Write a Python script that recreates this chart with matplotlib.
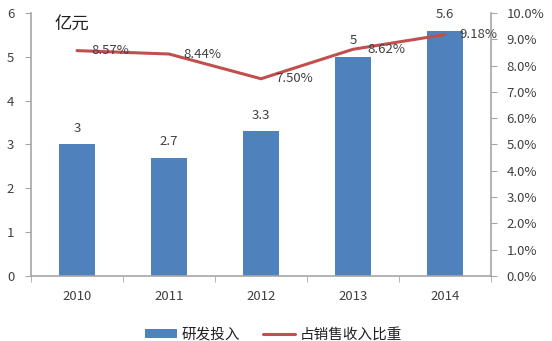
import matplotlib
matplotlib.use("Agg")
import matplotlib.pyplot as plt
import numpy as np

plt.rcParams['font.family'] = ['Noto Sans CJK SC', 'DejaVu Sans']

years = ["2010", "2011", "2012", "2013", "2014"]
rd_spend = [3, 2.7, 3.3, 5, 5.6]          # 亿元
rd_ratio = [8.57, 8.44, 7.50, 8.62, 9.18]  # %

bar_color = "#4F81BD"
line_color = "#C0504D"
axis_color = "#A6A6A6"
text_color = "#404040"

fig = plt.figure(figsize=(5.52, 3.41), dpi=100)
ax = fig.add_axes([0.0562, 0.1906, 0.8333, 0.7713])
ax2 = ax.twinx()

x = np.arange(len(years))
bars = ax.bar(x, rd_spend, width=0.4, color=bar_color, label="研发投入", zorder=2)
line, = ax2.plot(x, rd_ratio, color=line_color, lw=2.2, label="占销售收入比重",
                 solid_capstyle="round", zorder=3)

# bar value labels
for xi, v in zip(x, rd_spend):
    ax.annotate(f"{v:g}", (xi, v), xytext=(0, 7), textcoords="offset points",
                ha="center", va="bottom", fontsize=9.5, color=text_color)

# ratio labels, to the right of each point
for xi, v in zip(x, rd_ratio):
    ax2.annotate(f"{v:.2f}%", (xi, v), xytext=(10, 0), textcoords="offset points",
                 ha="left", va="center", fontsize=9.5, color=text_color, zorder=4)

ax.set_xlim(-0.5, len(years) - 0.5)
ax.set_ylim(0, 6)
ax2.set_ylim(0, 10)
ax.set_yticks(range(0, 7))
ax2.set_yticks(range(0, 11))
ax2.set_yticklabels([f"{v:.1f}%" for v in range(0, 11)])

ax.set_xticks(x)
ax.set_xticklabels(years)
ax.set_xticks(np.arange(-0.5, len(years)), minor=True)
ax.tick_params(axis="x", which="major", length=0, pad=10)
ax.tick_params(axis="x", which="minor", length=4, color=axis_color)
ax.tick_params(axis="y", length=4, color=axis_color, pad=8)
ax2.tick_params(axis="y", length=4, color=axis_color, pad=7)
for a in (ax, ax2):
    a.tick_params(labelsize=9.5, labelcolor=text_color)
    for s in a.spines.values():
        s.set_visible(False)
ax.spines["left"].set_visible(True)
ax.spines["bottom"].set_visible(True)
ax2.spines["right"].set_visible(True)
for s in (ax.spines["left"], ax.spines["bottom"], ax2.spines["right"]):
    s.set_color(axis_color)
    s.set_linewidth(1.2)

ax.text(0.05, 0.955, "亿元", transform=ax.transAxes, fontsize=12.5,
        color="#202020", va="center", ha="left")

fig.legend(handles=[bars, line], loc="lower center", bbox_to_anchor=(0.495, -0.04),
           ncol=2, frameon=False, fontsize=10.5, handlelength=2.2, handleheight=0.6,
           columnspacing=1.6, handletextpad=0.3, labelcolor="#202020")

fig.savefig("out.png", dpi=100)
